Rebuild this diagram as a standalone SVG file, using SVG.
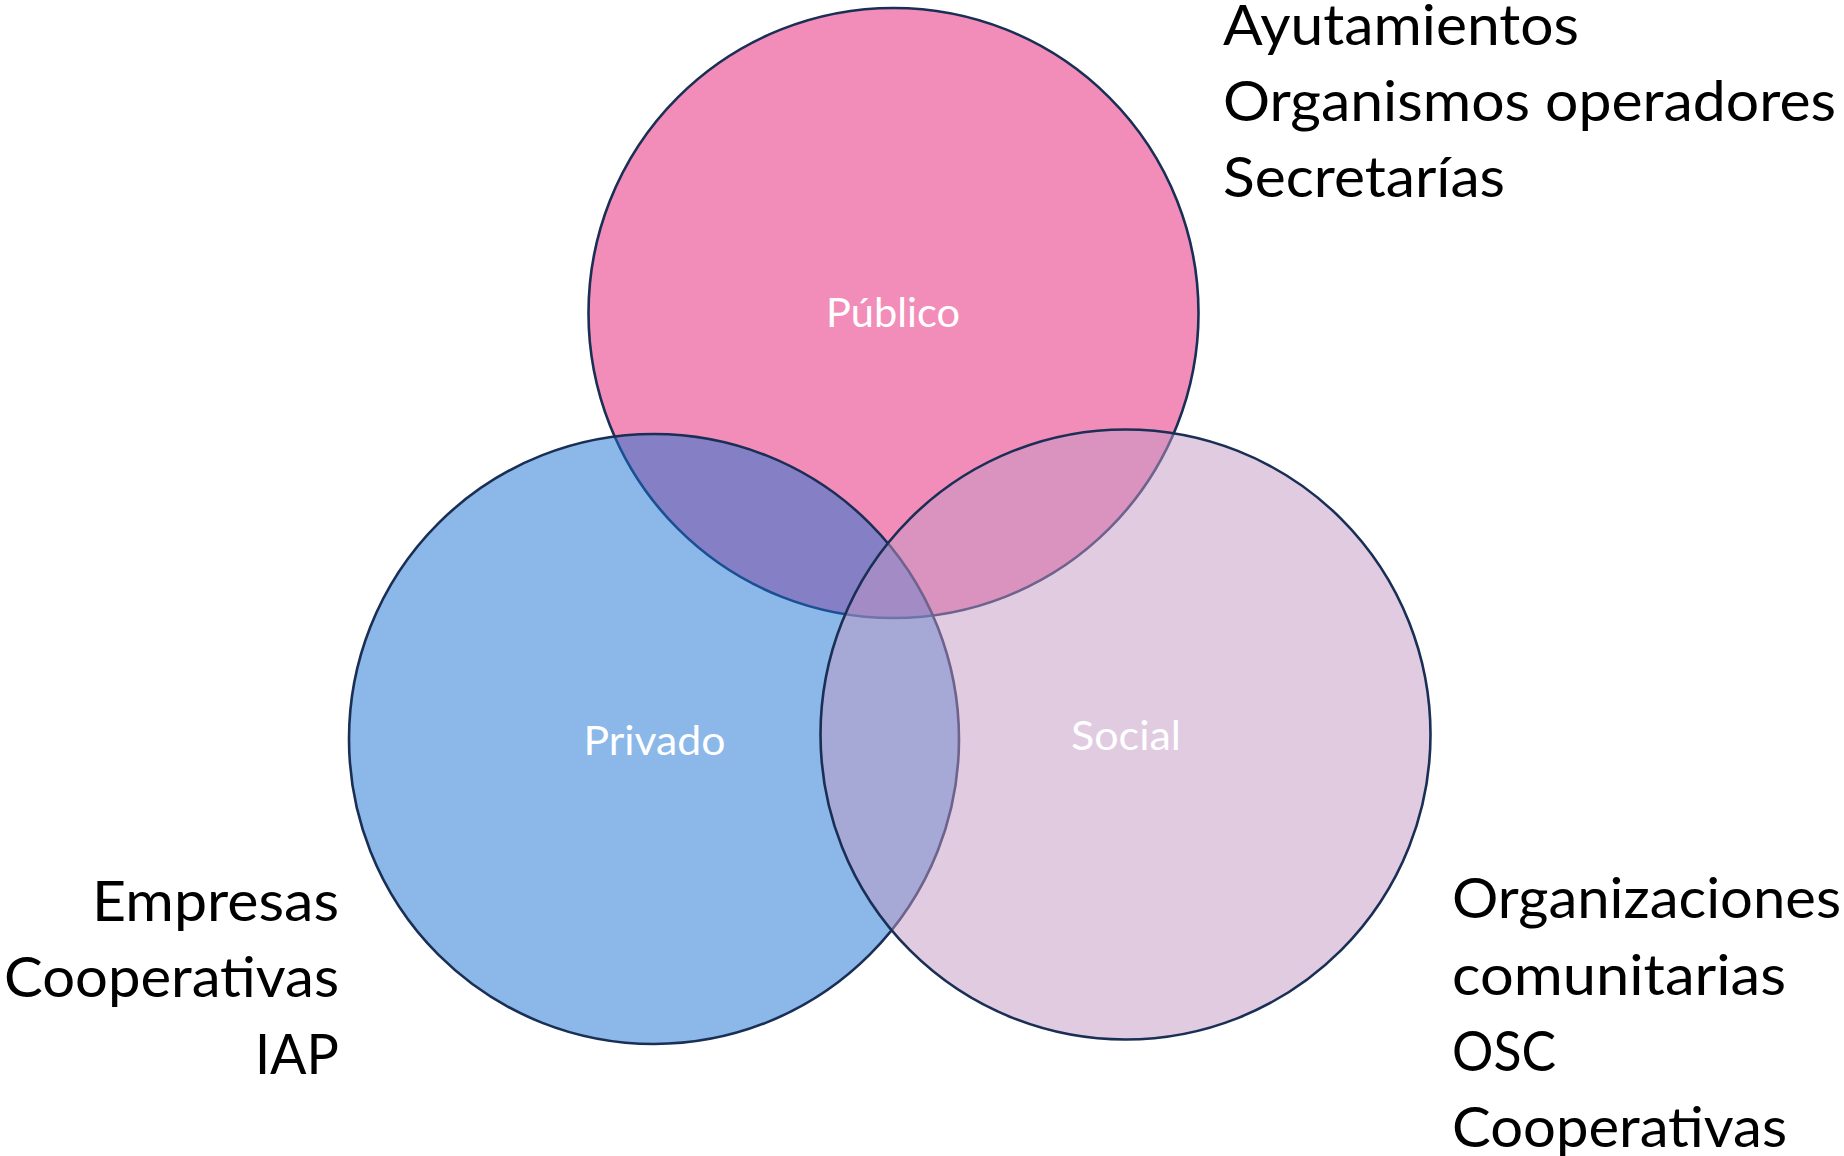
<svg xmlns="http://www.w3.org/2000/svg" width="1844" height="1156" viewBox="0 0 1844 1156">
<style>
.c{stroke:#1A2F55;stroke-width:2.6;fill-opacity:0.5}
.lbl{font-family:Lato,"Open Sans","Liberation Sans",sans-serif;font-size:41px;fill:#FFFFFF;text-anchor:middle}
.out{font-family:Lato,"Open Sans","Liberation Sans",sans-serif;font-size:57px;fill:#000000}
.end{text-anchor:end}
</style>
<rect width="1844" height="1156" fill="#FFFFFF"/>
<g id="publico">
<circle class="c" cx="893.5" cy="313" r="305" fill="#E51B75"/>
</g>
<g id="privado">
<circle class="c" cx="654" cy="739" r="305" fill="#1771D1"/>
</g>
<g id="social">
<circle class="c" cx="1125.5" cy="734.5" r="305" fill="#C197C3"/>
</g>
<g id="connectors"></g>
<g id="labels">
<text class="lbl" x="893" y="327" textLength="134" lengthAdjust="spacingAndGlyphs">Público</text>
<text class="lbl" x="654.5" y="755" textLength="142" lengthAdjust="spacingAndGlyphs">Privado</text>
<text class="lbl" x="1126" y="750" textLength="110" lengthAdjust="spacingAndGlyphs">Social</text>
</g>
<g id="publico-items">
<text class="out" x="1223" y="45" textLength="356" lengthAdjust="spacingAndGlyphs">Ayutamientos</text>
<text class="out" x="1223" y="121" textLength="613" lengthAdjust="spacingAndGlyphs">Organismos operadores</text>
<text class="out" x="1223" y="197" textLength="282" lengthAdjust="spacingAndGlyphs">Secretarías</text>
</g>
<g id="privado-items">
<text class="out end" x="339" y="921" textLength="247" lengthAdjust="spacingAndGlyphs">Empresas</text>
<text class="out end" x="339" y="997" textLength="335" lengthAdjust="spacingAndGlyphs">Cooperativas</text>
<text class="out end" x="339" y="1074" textLength="84" lengthAdjust="spacingAndGlyphs">IAP</text>
</g>
<g id="social-items">
<text class="out" x="1452" y="918" textLength="389" lengthAdjust="spacingAndGlyphs">Organizaciones</text>
<text class="out" x="1452" y="995" textLength="334" lengthAdjust="spacingAndGlyphs">comunitarias</text>
<text class="out" x="1452" y="1071" textLength="104" lengthAdjust="spacingAndGlyphs">OSC</text>
<text class="out" x="1452" y="1147" textLength="335" lengthAdjust="spacingAndGlyphs">Cooperativas</text>
</g>
</svg>
